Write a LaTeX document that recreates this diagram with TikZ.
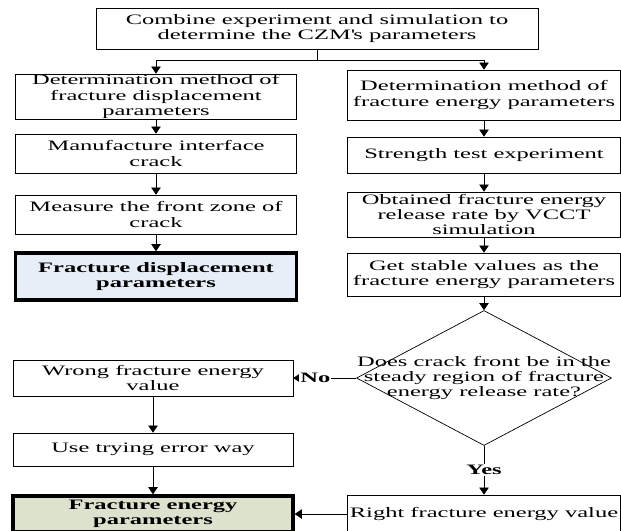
\documentclass[tikz,border=0pt]{standalone}
\usepackage{fontspec}
\setmainfont{Liberation Serif}[FakeStretch=1.7]
\usetikzlibrary{shapes.geometric,arrows.meta}
\definecolor{dispfill}{RGB}{231,238,248}
\definecolor{energyfill}{RGB}{221,226,207}

\begin{document}
\begin{tikzpicture}[x=0.03cm, y=-0.03cm, line width=0.6pt,
  every node/.style={font=\fontsize{12.3}{13}\selectfont, align=center, inner sep=0pt},
  box/.style args={#1/#2}{draw, rectangle, minimum width=#1*0.03cm, minimum height=#2*0.03cm},
  result/.style={line width=3pt},
  decision/.style={draw, diamond, minimum width=255*0.03cm, minimum height=135*0.03cm},
  arrow/.style={-{Triangle[length=6pt,width=8pt]}},
  tag/.style={fill=white, inner sep=1pt, font=\fontsize{12.3}{13}\selectfont\bfseries}]
  \path[use as bounding box, clip] (0,0) rectangle (621,530);
  \node[box=442/41] (czm) at (317,28.5) {Combine experiment and simulation to\\determine the CZM\textquotesingle s parameters};
  \node[box=281/45] (dispmethod) at (156,96.5) {Determination method of\\fracture displacement\\parameters};
  \node[box=273/50] (energymethod) at (484,95) {Determination method of\\fracture energy parameters};
  \node[box=281/39] (crack) at (156,153.5) {Manufacture interface\\crack};
  \node[box=273/36] (strength) at (484,155) {Strength test experiment};
  \node[box=281/39] (front) at (156,214.5) {Measure the front zone of\\crack};
  \node[box=273/45] (vcct) at (484,214.5) {Obtained fracture energy\\release rate by VCCT\\simulation};
  \node[box=281/47, result, fill=dispfill] (disp) at (156,276.5) {\textbf{Fracture displacement}\\\textbf{parameters}};
  \node[box=273/43] (stable) at (484,274.5) {Get stable values as the\\fracture energy parameters};
  \node[decision] (steady) at (484,378) {};
  \node (question) at (steady) {Does crack front be in the\\steady region of fracture\\energy release rate?};
  \node[box=280/36] (wrong) at (153,378) {Wrong fracture energy\\value};
  \node[box=280/33] (trying) at (153,449.5) {Use trying error way};
  \node[box=280/36, result, fill=energyfill] (energy) at (153,514) {\textbf{Fracture energy}\\\textbf{parameters}};
  \node[box=273/38] (right) at (484,514) {Right fracture energy value};
  \coordinate (split) at (317,60);
  \draw (czm) -- (split);
  \draw[arrow] (split) -| (dispmethod);
  \draw[arrow] (split) -| (energymethod);
  \draw[arrow] (dispmethod) -- (crack);
  \draw[arrow] (crack) -- (front);
  \draw[arrow] (front) -- (disp);
  \draw[arrow] (energymethod) -- (strength);
  \draw[arrow] (strength) -- (vcct);
  \draw[arrow] (vcct) -- (stable);
  \draw[arrow] (stable) -- (steady);
  \draw[arrow] (steady) -- node[tag, pos=0.65] {No} (wrong);
  \draw[arrow] (steady) -- node[tag] {Yes} (right);
  \draw[arrow] (wrong) -- (trying);
  \draw[arrow] (trying) -- (energy);
  \draw[arrow] (right) -- (energy);
\end{tikzpicture}
\end{document}
